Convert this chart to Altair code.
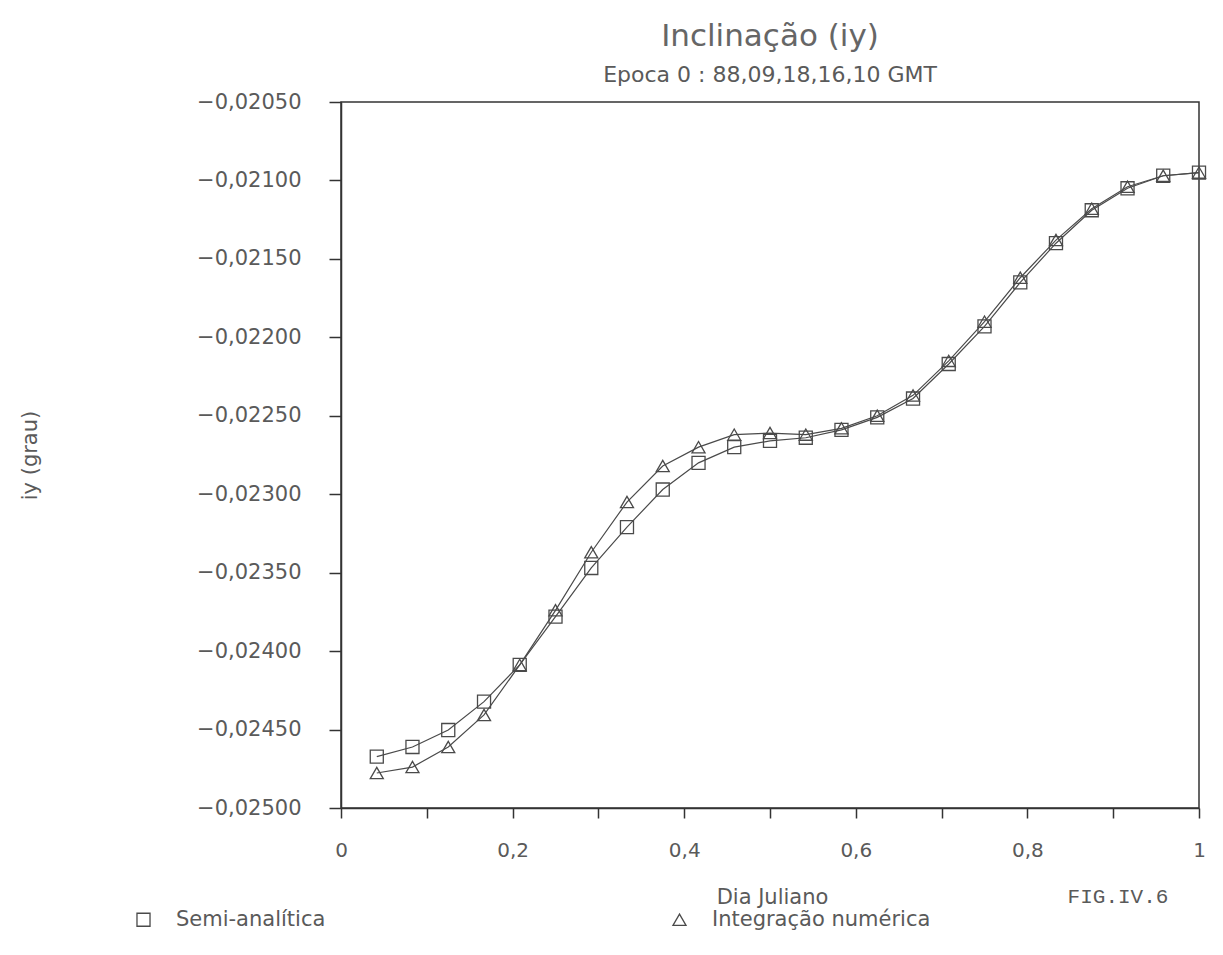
import altair as alt
import pandas as pd

# ---- data ----
dia_juliano = [0.0417, 0.0833, 0.125, 0.1667, 0.2083, 0.25, 0.2917, 0.3333,
               0.375, 0.4167, 0.4583, 0.5, 0.5417, 0.5833, 0.625, 0.6667,
               0.7083, 0.75, 0.7917, 0.8333, 0.875, 0.9167, 0.9583, 1.0]

semi_analitica = [-0.024673, -0.024611, -0.024503, -0.024322, -0.024088, -0.02378,
                  -0.02347, -0.02321, -0.02297, -0.02280, -0.02270, -0.02266,
                  -0.02264, -0.02259, -0.02251, -0.02239, -0.02217, -0.02193,
                  -0.02165, -0.02140, -0.02119, -0.02105, -0.02097, -0.02095]

integracao_numerica = [-0.024777, -0.024739, -0.024611, -0.024407, -0.024088, -0.02374,
                       -0.02337, -0.02305, -0.02282, -0.02270, -0.02262, -0.02261,
                       -0.02262, -0.02258, -0.02250, -0.02237, -0.02215, -0.02190,
                       -0.02162, -0.02138, -0.02118, -0.02104, -0.02097, -0.02095]

series_names = ["Semi-analítica", "Integração numérica"]
x_ticks = [0, 0.1, 0.2, 0.3, 0.4, 0.5, 0.6, 0.7, 0.8, 0.9, 1.0]
y_ticks = [-0.025, -0.0245, -0.024, -0.0235, -0.023, -0.0225, -0.022, -0.0215, -0.021, -0.0205]

df = pd.DataFrame({
    "x": dia_juliano + dia_juliano,
    "y": semi_analitica + integracao_numerica,
    "serie": [series_names[0]] * len(semi_analitica) + [series_names[1]] * len(integracao_numerica),
})

INK = "#4a4a4a"
TXT = "#5a5a5a"
FONT = "DejaVu Sans"

x_enc = alt.X(
    "x:Q",
    scale=alt.Scale(domain=[0, 1], nice=False, zero=False),
    axis=alt.Axis(
        title="Dia Juliano", values=x_ticks, grid=False,
        labelExpr="round(datum.value*10) % 2 == 0 ? replace(format(datum.value, '.1~f'), '.', ',') : ''",
        labelFlush=False, labelOverlap=False, tickSize=10, labelPadding=22,
        labelFont=FONT, labelFontSize=20, labelColor=TXT,
        titleFont=FONT, titleFontSize=21, titleColor=TXT, titleFontWeight="normal",
        titleX=431, titleY=89, titleBaseline="middle", titleAlign="center",
        domainColor="#333333", domainWidth=1.5, tickColor="#333333", tickWidth=1.5,
    ),
)
y_enc = alt.Y(
    "y:Q",
    scale=alt.Scale(domain=[-0.025, -0.0205], nice=False, zero=False),
    axis=alt.Axis(
        title="iy (grau)", values=y_ticks, grid=False,
        labelExpr="replace(format(datum.value, '.5f'), '.', ',')",
        labelFlush=False, labelOverlap=False, tickSize=12, labelPadding=28,
        labelFont=FONT, labelFontSize=21, labelColor=TXT,
        titleFont=FONT, titleFontSize=21, titleColor=TXT, titleFontWeight="normal",
        titleX=-311, titleY=353, titleAngle=270, titleAlign="center", titleBaseline="middle",
        domainColor="#333333", domainWidth=1.5, tickColor="#333333", tickWidth=1.5,
    ),
)

base = alt.Chart(df).encode(x=x_enc, y=y_enc)

lines = base.mark_line(color=INK, strokeWidth=1.2).encode(detail="serie:N")

points = base.mark_point(filled=False, color=INK, strokeWidth=1.3, size=170, opacity=1).encode(
    shape=alt.Shape(
        "serie:N",
        scale=alt.Scale(domain=series_names, range=["square", "triangle-up"]),
        legend=alt.Legend(
            title=None, orient="none", direction="horizontal", columns=2,
            legendX=-208, legendY=807, columnPadding=343, padding=0, labelLimit=0,
            labelFontSize=21, labelFont=FONT, labelColor=TXT, labelOffset=22,
            symbolSize=170, symbolStrokeWidth=1.3, symbolStrokeColor=INK,
            symbolFillColor="white",
        ),
    )
)

fig_label = alt.Chart(pd.DataFrame({"t": ["FIG.IV.6"]})).mark_text(
    font="Liberation Mono", fontSize=21, color=TXT, align="center", baseline="middle"
).encode(text="t:N", x=alt.value(777), y=alt.value(795))

chart = alt.layer(lines, points, fig_label).properties(
    width=858,
    height=706,
    background="white",
    padding={"left": 341, "top": 102, "right": 24, "bottom": 147},
    autosize=alt.AutoSizeParams(type="none"),
    title=alt.TitleParams(
        text="Inclinação (iy)",
        subtitle="Epoca 0 : 88,09,18,16,10 GMT",
        anchor="middle", fontSize=31, subtitleFontSize=22, font=FONT, subtitleFont=FONT,
        fontWeight="normal", color="#666666", subtitleColor=TXT, offset=4, subtitlePadding=12,
    ),
).configure_view(
    stroke="#333333", strokeWidth=1.5
)

chart.save("out.html", embed_options={"renderer": "svg", "actions": False})
